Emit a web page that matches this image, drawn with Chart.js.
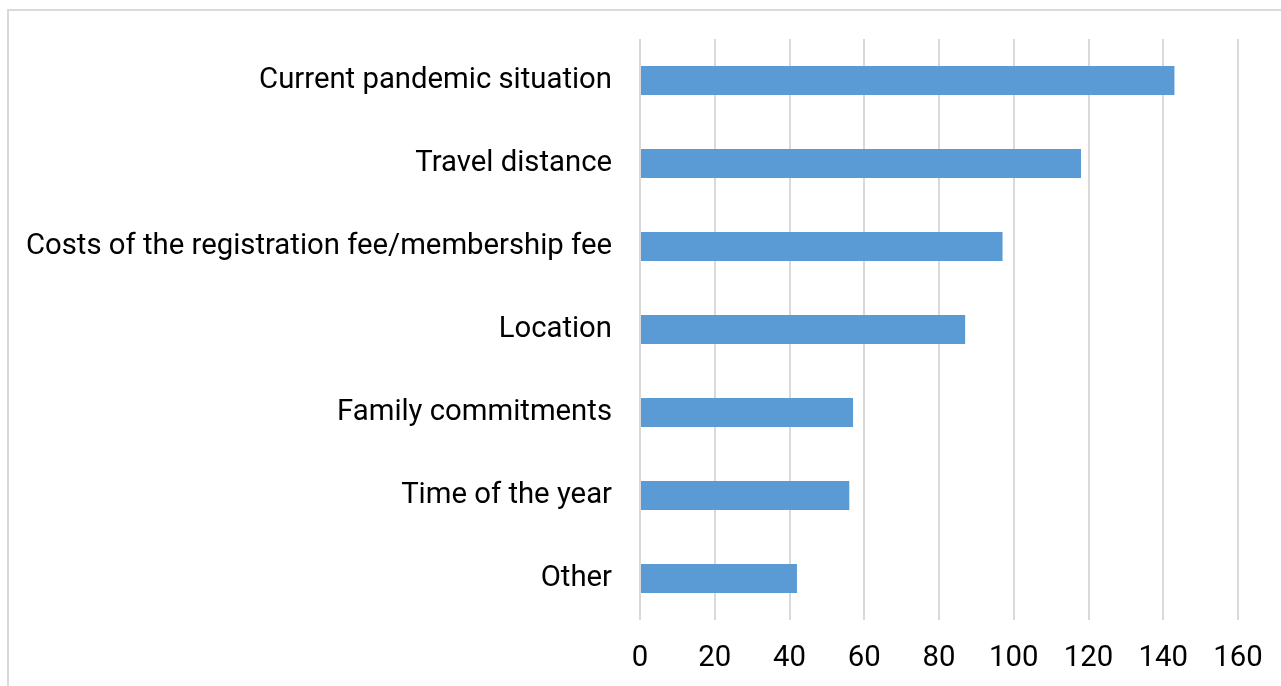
<!DOCTYPE html>
<html>
<head>
<meta charset="utf-8">
<script src="https://cdn.jsdelivr.net/npm/chart.js@4/dist/chart.umd.min.js"></script>
<style>
  html, body { margin: 0; padding: 0; background: #fff; overflow: hidden; }
  #frame {
    position: absolute; left: 7px; top: 9px; width: 1300px; height: 700px;
    border-left: 2px solid #d9d9d9; border-top: 2px solid #d9d9d9;
  }
  #wrap { position: absolute; left: 0; top: 0; width: 1281px; height: 686px; }
</style>
</head>
<body>
<div id="frame"></div>
<div id="wrap"><canvas id="barChart" width="1281" height="686"></canvas></div>
<script>
// reasons (top to bottom) and number of answers
var reasons = [
  "Current pandemic situation",
  "Travel distance",
  "Costs of the registration fee/membership fee",
  "Location",
  "Family commitments",
  "Time of the year",
  "Other"
];
var counts = [143, 118, 97, 87, 57, 56, 42];
var xTicks = [0, 20, 40, 60, 80, 100, 120, 140, 160];

var PLOT_LEFT = 640;
var XAXIS_H = 66;

var ctx = document.getElementById("barChart").getContext("2d");
var barChart = new Chart(ctx, {
  type: "bar",
  data: {
    labels: reasons,
    datasets: [{
      label: "Answers",
      data: counts,
      backgroundColor: "#5b9bd5",
      borderWidth: 0,
      barPercentage: 0.35,
      categoryPercentage: 1
    }]
  },
  options: {
    indexAxis: "y",
    responsive: false,
    animation: false,
    layout: { padding: { top: 39, right: 43, left: 0, bottom: 0 } },
    plugins: {
      legend: { display: false },
      tooltip: { enabled: false }
    },
    scales: {
      x: {
        min: 0,
        max: 160,
        afterBuildTicks: function(scale){
          scale.ticks = xTicks.map(function(v){ return { value: v }; });
        },
        afterFit: function(scale){
          scale.height = XAXIS_H;
          scale.paddingLeft = 0;
          scale.paddingRight = 0;
        },
        grid: { color: "#d9d9d9", lineWidth: 2, drawTicks: false },
        border: { display: false },
        ticks: {
          color: "#000",
          padding: 21,
          font: { family: "Roboto", size: 29.3 }
        }
      },
      y: {
        afterFit: function(scale){
          scale.width = PLOT_LEFT;
          scale.paddingTop = 0;
          scale.paddingBottom = 0;
        },
        grid: { display: false, drawTicks: false },
        border: { display: false },
        ticks: {
          color: "#000",
          padding: 28,
          font: { family: "Roboto", size: 29.3 }
        }
      }
    }
  }
});
</script>
</body>
</html>
